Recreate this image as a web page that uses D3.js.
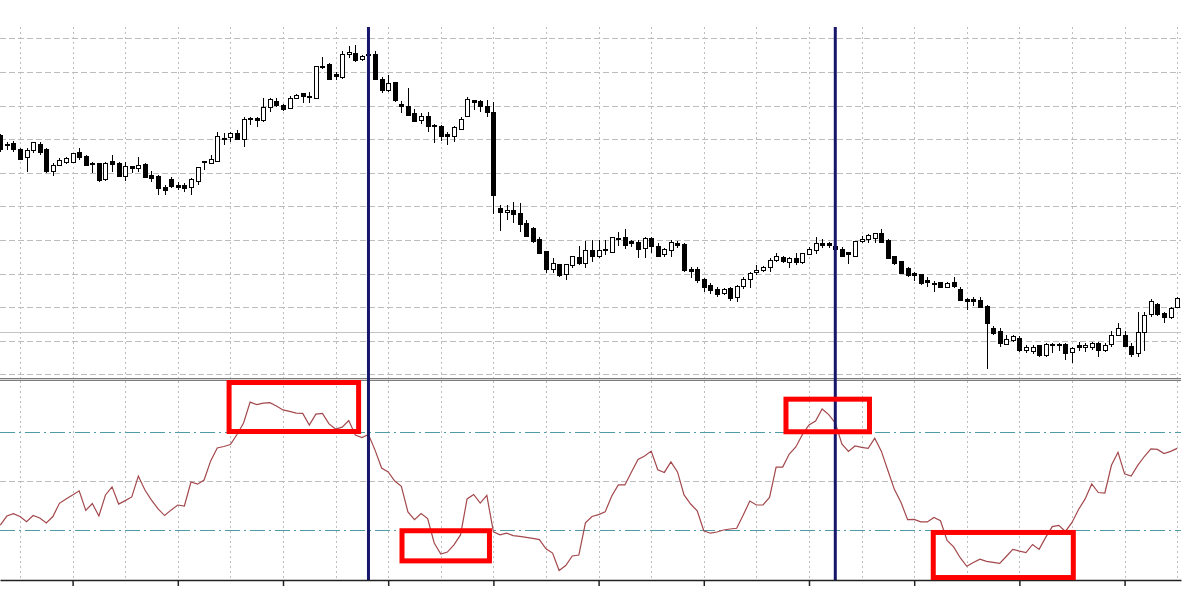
<!DOCTYPE html>
<html><head><meta charset="utf-8">
<script src="https://cdn.jsdelivr.net/npm/d3@7"></script>
<style>html,body{margin:0;padding:0;background:#fff;} svg{display:block;}</style>
</head><body>
<svg id="chart" width="1194" height="594"></svg>
<script>
// bar index of the first candle (bars are numbered so that a grid line sits on bar 0)
const firstBar = -3;

const openVals = [
71.0,68.3,68.6,66.8,64.5,66.5,68.3,66.8,60.5,62.3,
63.0,63.0,65.9,64.8,62.9,62.9,57.9,63.3,62.9,59.0,
61.8,61.4,62.6,59.3,58.8,55.5,57.9,56.2,56.1,55.5,
57.4,63.0,62.8,63.5,69.9,70.4,71.8,70.0,75.9,76.2,
75.5,79.3,81.2,79.9,79.2,82.2,83.7,82.5,82.2,91.4,
92.3,89.4,88.3,95.1,95.6,93.6,94.8,95.1,87.8,84.6,
86.8,80.2,79.7,77.5,75.7,76.7,74.2,73.9,71.4,70.8,
72.9,76.7,81.4,81.2,79.7,77.9,49.4,48.1,48.9,47.9,
44.8,43.5,40.0,36.5,31.1,32.6,29.6,32.3,34.9,32.9,
37.0,35.0,36.8,36.2,40.0,40.8,39.5,39.2,37.5,40.5,
38.2,35.8,36.8,39.0,38.8,31.1,31.3,28.3,26.6,25.3,
24.1,25.6,22.9,26.1,28.1,30.3,30.9,31.9,33.8,34.9,
33.2,34.6,33.2,35.8,37.0,39.0,39.0,38.0,37.2,36.2,
35.0,39.5,40.0,40.5,42.0,39.8,35.0,33.5,31.6,30.1,
29.6,27.9,27.1,27.3,25.9,27.3,25.3,22.4,22.4,21.9,
20.1,13.7,12.7,9.0,10.2,10.7,7.1,6.8,8.5,5.5,
9.0,9.0,9.0,6.5,8.7,8.1,8.1,9.3,7.1,8.8,
11.7,11.7,8.2,6.1,12.4,17.7,20.7,18.2,17.0,20.0];

const highVals = [
71.5,69.3,69.6,67.3,67.3,69.3,69.3,67.3,62.8,64.3,
64.8,65.8,67.5,65.3,63.3,63.0,63.3,65.3,63.3,63.3,
62.0,64.8,62.8,60.5,59.3,56.4,58.8,57.4,56.9,58.4,
61.8,63.5,65.3,72.2,71.8,72.2,72.7,76.6,76.6,76.6,
82.3,82.3,82.2,80.5,82.9,83.4,83.8,84.1,91.8,94.6,
92.6,90.1,96.3,97.7,98.0,95.1,95.7,96.3,88.5,89.1,
87.1,81.4,85.1,78.9,77.7,78.2,74.5,74.2,72.2,73.9,
76.7,82.5,81.7,81.7,81.7,81.2,50.4,50.4,51.4,51.0,
46.0,44.0,41.0,36.7,34.6,32.9,32.9,35.2,38.2,39.8,
40.0,40.0,40.0,41.0,42.5,43.2,40.0,40.0,41.0,41.0,
39.0,37.5,40.0,39.8,39.0,31.9,31.9,28.6,27.3,25.9,
25.6,26.1,26.6,29.1,30.6,32.6,32.3,34.6,36.0,35.2,
35.0,36.0,36.2,38.0,41.0,40.2,39.5,38.5,37.8,36.5,
39.8,41.2,41.8,42.2,43.2,40.2,35.2,33.8,32.0,30.6,
29.9,29.1,27.9,27.6,27.6,28.9,25.9,22.6,22.9,22.9,
20.7,14.4,13.7,11.7,11.7,11.4,8.8,8.8,8.8,9.3,
9.4,9.4,9.3,8.1,9.7,9.3,9.7,9.7,9.3,13.0,
15.2,13.0,9.3,18.7,18.7,22.4,21.3,18.7,20.1,23.1];

const lowVals = [
66.2,66.8,66.3,63.8,60.3,65.8,65.3,59.9,59.0,62.0,
62.6,62.8,63.8,62.0,59.9,57.4,57.7,60.3,58.7,57.6,
59.9,60.3,58.4,57.4,53.4,53.4,55.4,54.9,54.4,53.4,
56.4,60.8,62.8,63.2,68.3,69.3,69.8,67.8,74.2,73.7,
75.2,78.2,79.5,78.5,78.9,82.1,80.8,80.7,81.9,90.8,
87.6,87.6,87.8,94.1,93.1,93.4,94.2,87.6,83.8,84.1,
81.2,77.9,77.2,75.2,74.5,72.2,68.9,69.6,68.3,69.3,
72.7,76.5,78.7,78.2,76.7,47.7,42.8,46.0,45.0,42.5,
40.8,39.0,35.8,30.3,30.3,29.1,28.1,31.6,32.6,31.6,
33.5,34.6,35.6,36.0,38.2,37.2,38.0,34.6,34.6,36.2,
35.0,35.0,35.0,37.5,30.6,28.6,27.3,24.6,23.9,22.9,
23.6,21.9,21.6,25.3,25.6,29.6,30.6,30.6,33.5,33.2,
31.6,32.6,32.9,35.5,35.8,37.5,37.5,36.7,34.9,32.9,
34.9,39.0,39.0,39.2,39.0,34.3,32.6,29.9,29.1,27.9,
26.6,25.9,24.6,25.6,25.6,25.6,21.9,19.2,20.4,19.7,
1.5,11.7,8.1,8.8,9.7,6.8,6.3,6.1,5.1,5.1,
6.5,7.1,4.3,3.3,7.1,6.8,7.3,5.3,6.8,8.1,
11.4,8.1,5.3,5.3,7.1,17.2,17.4,15.4,16.4,19.7];

const closeVals = [
66.8,68.0,66.8,64.1,66.5,68.9,65.9,60.5,62.3,63.8,
64.4,65.6,64.7,62.3,62.6,57.6,62.9,62.6,58.8,62.0,
61.3,62.3,58.7,58.4,55.2,54.7,55.8,55.6,55.4,57.9,
61.7,63.3,64.0,70.8,70.2,71.8,70.0,75.9,76.2,75.7,
79.3,81.7,79.9,78.9,82.2,82.9,82.7,82.7,91.6,91.7,
87.8,88.6,95.1,95.7,93.4,94.6,95.1,87.8,84.4,86.6,
81.4,79.7,77.2,75.4,76.7,73.9,73.9,70.9,70.8,73.6,
75.9,81.9,80.9,79.7,77.9,53.1,48.1,48.9,47.7,44.5,
41.0,39.5,36.0,31.1,32.9,29.3,32.6,35.0,32.9,37.0,
35.2,36.8,37.2,40.8,40.5,38.5,39.0,37.2,40.5,38.0,
35.2,37.2,39.2,38.5,30.9,30.6,27.9,25.9,25.1,23.9,
25.3,22.6,26.3,28.3,30.1,30.8,31.9,34.0,35.0,33.5,
34.6,33.2,36.0,37.2,39.0,38.5,38.5,37.2,35.2,35.8,
39.5,40.2,41.2,41.8,39.2,34.6,32.9,30.1,29.3,29.3,
27.1,27.3,26.7,25.9,27.2,26.1,22.1,21.6,21.6,20.0,
15.2,12.2,9.3,10.4,11.2,7.1,8.1,8.1,5.5,8.8,
8.5,8.7,6.3,7.8,8.1,8.7,9.3,7.1,8.5,11.7,
13.7,8.2,5.8,12.4,17.4,21.6,17.7,17.0,19.7,22.6];

const rsiVals = [
32.0,35.7,36.7,35.5,33.4,35.9,34.9,32.9,35.5,40.9,
42.7,44.3,46.0,38.0,40.8,35.7,44.3,47.6,40.6,42.0,
43.5,52.0,46.3,42.2,38.6,35.9,38.2,40.2,39.8,49.6,
48.7,50.4,58.2,63.5,64.1,64.9,69.0,73.7,82.2,81.2,
81.8,82.0,80.6,79.0,78.4,77.7,77.6,72.8,77.3,77.6,
73.3,71.2,72.0,74.7,68.8,67.7,69.0,62.6,55.3,53.7,
50.0,47.8,37.4,34.2,36.7,34.7,24.7,20.2,21.0,23.9,
28.0,42.7,44.5,41.0,44.1,29.3,28.0,28.7,27.7,27.4,
27.0,26.6,26.1,22.3,20.6,13.5,15.5,19.4,19.8,32.9,
35.5,36.3,37.4,43.9,48.4,48.4,53.7,58.8,60.2,62.2,
54.6,53.5,57.8,53.7,44.3,40.6,37.8,29.7,28.7,29.2,
30.0,30.4,30.7,36.1,41.8,40.2,40.2,43.3,55.7,55.7,
61.0,63.9,69.0,72.9,74.5,79.4,77.1,73.7,65.1,62.1,
64.3,63.7,63.3,67.5,62.2,54.3,46.5,41.2,34.2,34.3,
33.3,33.3,35.1,33.8,25.7,23.1,18.7,15.2,16.7,18.1,
17.2,16.8,16.4,19.2,22.1,21.4,20.8,24.1,22.1,27.0,
31.4,31.9,29.4,33.1,38.4,42.7,48.8,45.3,45.1,56.4,
61.7,52.9,52.0,56.4,60.0,63.1,62.9,61.2,62.1,63.3];

const priceGridLevels = [0,10,20,30,40,50,60,70,80,90,100];
const referencePrice = 12.6;
const rsiLevels = [30,70];
const rsiMidLevel = [50];
const markerBars = [53,124];
const gridEveryBars = 8;
const tickEveryBars = 16;
// highlighted zones on the oscillator: [fromBar, toBar, topValue, bottomValue]
const boxFrom = [31.8, 58.1, 116.5, 138.9];
const boxTo   = [51.5, 71.4, 129.2, 160.2];
const boxTop  = [90.2, 29.7, 83.4, 29.0];
const boxBot  = [70.2, 17.4, 70.1, 10.6];

// ---------- layout ----------
const W = 1194, H = 594;
const plotLeft = 0, plotRight = 1181;
const priceTop = 27, priceBottom = 378;
const rsiTop = 381, rsiBottom = 578;
const axisY = 580;

const bars = openVals.map((o,i)=>({
  bar: firstBar+i, o, h: highVals[i], l: lowVals[i], c: closeVals[i]
}));
const lastBar = firstBar + bars.length - 1;

const x = d3.scaleLinear().domain([-3.042, 176.58]).range([plotLeft, plotRight]);
const yP = d3.scaleLinear().domain([-1.07, 103.39]).range([priceBottom, priceTop]);
const yR = d3.scaleLinear().domain([10.41, 90.82]).range([rsiBottom, rsiTop]);

const svg = d3.select("#chart");
svg.append("rect").attr("width",W).attr("height",H).attr("fill","#fff");

const gridBars = d3.range(0, lastBar+1, gridEveryBars);
const gridColor = "#bdbdbd";

// price panel grid
const gP = svg.append("g").attr("shape-rendering","crispEdges");
gP.selectAll("line.hg").data(priceGridLevels).join("line")
  .attr("x1",plotLeft).attr("x2",plotRight)
  .attr("y1",d=>Math.round(yP(d))+0.5).attr("y2",d=>Math.round(yP(d))+0.5)
  .attr("stroke",gridColor).attr("stroke-dasharray","6,3");
gP.selectAll("line.vg").data(gridBars).join("line")
  .attr("x1",d=>Math.round(x(d))+0.5).attr("x2",d=>Math.round(x(d))+0.5)
  .attr("y1",priceTop).attr("y2",priceBottom)
  .attr("stroke",gridColor).attr("stroke-dasharray","2,3");
gP.append("line").attr("x1",plotLeft).attr("x2",plotRight)
  .attr("y1",Math.round(yP(referencePrice))+0.5).attr("y2",Math.round(yP(referencePrice))+0.5)
  .attr("stroke","#c4c4c4");

// oscillator panel grid
const gR = svg.append("g").attr("shape-rendering","crispEdges");
gR.selectAll("line.vg").data(gridBars).join("line")
  .attr("x1",d=>Math.round(x(d))+0.5).attr("x2",d=>Math.round(x(d))+0.5)
  .attr("y1",rsiTop).attr("y2",rsiBottom)
  .attr("stroke",gridColor).attr("stroke-dasharray","2,3");
gR.selectAll("line.mid").data(rsiMidLevel).join("line")
  .attr("x1",plotLeft).attr("x2",plotRight)
  .attr("y1",d=>Math.round(yR(d))+0.5).attr("y2",d=>Math.round(yR(d))+0.5)
  .attr("stroke",gridColor).attr("stroke-dasharray","6,3");
gR.selectAll("line.lvl").data(rsiLevels).join("line")
  .attr("x1",plotLeft).attr("x2",plotRight)
  .attr("y1",d=>Math.round(yR(d))+0.5).attr("y2",d=>Math.round(yR(d))+0.5)
  .attr("stroke","#4f9ca6").attr("stroke-width",1.2).attr("stroke-dasharray","15,4,2,4");

// separator between panels
svg.append("rect").attr("x",plotLeft).attr("y",priceBottom).attr("width",plotRight-plotLeft).attr("height",rsiTop-priceBottom)
  .attr("fill","#d8d8d8");
[priceBottom+0.5, rsiTop-0.5].forEach(yy=>{
  svg.append("line").attr("x1",plotLeft).attr("x2",plotRight).attr("y1",yy).attr("y2",yy)
    .attr("stroke","#7c7c7c").attr("shape-rendering","crispEdges");
});

// candles
const gC = svg.append("g").attr("shape-rendering","crispEdges");
const bw = 5;
gC.selectAll("line.wick").data(bars).join("line")
  .attr("x1",d=>Math.round(x(d.bar))+0.5).attr("x2",d=>Math.round(x(d.bar))+0.5)
  .attr("y1",d=>yP(d.h)).attr("y2",d=>yP(d.l))
  .attr("stroke","#000").attr("stroke-width",1);
gC.selectAll("rect.body").data(bars).join("rect")
  .attr("x",d=>Math.round(x(d.bar))-2+0.5)
  .attr("width",bw-1)
  .attr("y",d=>yP(Math.max(d.o,d.c)))
  .attr("height",d=>Math.max(1, Math.abs(yP(d.o)-yP(d.c))))
  .attr("fill",d=>d.c>=d.o ? "#fff" : "#000")
  .attr("stroke","#000").attr("stroke-width",1);

// oscillator line
const rsiData = rsiVals.map((v,i)=>({bar:firstBar+i, v}));
svg.append("path").datum(rsiData)
  .attr("fill","none").attr("stroke","#a3484c").attr("stroke-width",1.2)
  .attr("d", d3.line().x(d=>x(d.bar)).y(d=>yR(d.v)));

// marker vertical lines
svg.selectAll("line.marker").data(markerBars).join("line")
  .attr("x1",d=>x(d)).attr("x2",d=>x(d))
  .attr("y1",priceTop).attr("y2",axisY)
  .attr("stroke","#16166a").attr("stroke-width",3);

// bottom axis
const axis = d3.axisBottom(x)
  .tickValues(d3.range(gridEveryBars, lastBar+1, tickEveryBars))
  .tickFormat("").tickSizeInner(6).tickSizeOuter(0);
const gA = svg.append("g").attr("transform",`translate(0,${axisY})`).call(axis);
gA.select(".domain").attr("stroke","#222").attr("stroke-width",1.5);
gA.selectAll(".tick line").attr("stroke","#222").attr("stroke-width",1.5);

// highlighted zones
const boxes = boxFrom.map((b,i)=>({b0:b, b1:boxTo[i], v0:boxTop[i], v1:boxBot[i]}));
svg.selectAll("rect.box").data(boxes).join("rect")
  .attr("x",d=>x(d.b0)).attr("width",d=>x(d.b1)-x(d.b0))
  .attr("y",d=>yR(d.v0)).attr("height",d=>yR(d.v1)-yR(d.v0))
  .attr("fill","none").attr("stroke","#ff0000").attr("stroke-width",5);
</script>
</body></html>
